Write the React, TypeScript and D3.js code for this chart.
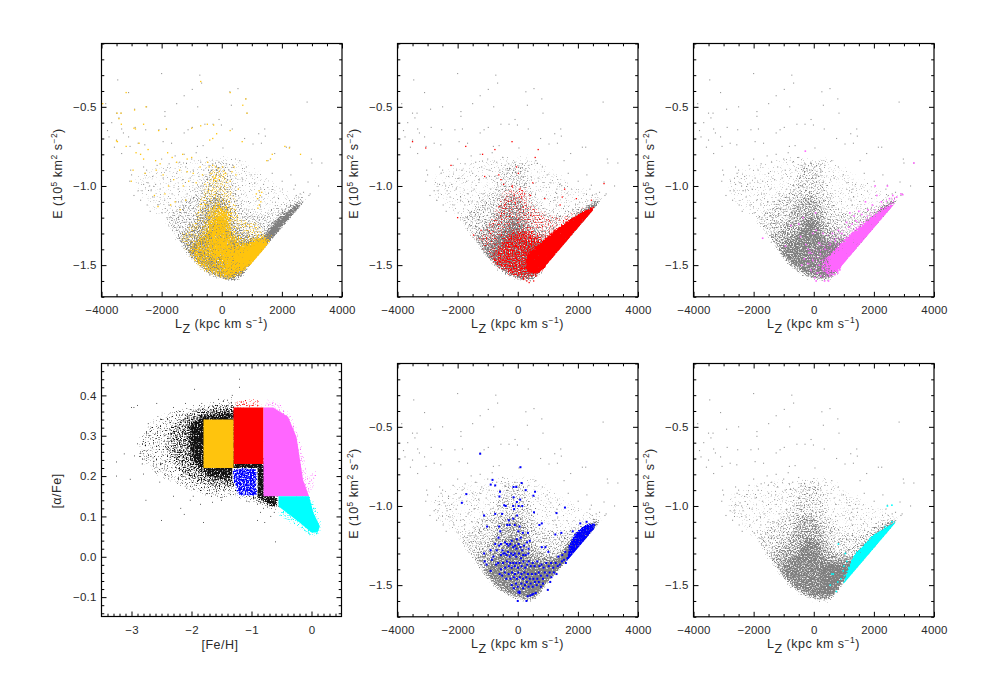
import * as d3 from "d3";
import { useEffect, useRef } from "react";

type Pt = [number, number];
type Layer = [Pt[], number];

const lzTicks = [-4000, -2000, 0, 2000, 4000];
const lzMinor = [-3500, -3000, -2500, -1500, -1000, -500, 500, 1000, 1500, 2500, 3000, 3500];
const energyTicks = [-1.5, -1.0, -0.5];
const energyMinor = [-1.7, -1.6, -1.4, -1.3, -1.2, -1.1, -0.9, -0.8, -0.7, -0.6, -0.4, -0.3, -0.2, -0.1];
const fehTicks = [-3, -2, -1, 0];
const fehMinor = [-3.4, -3.3, -3.2, -3.1, -2.9, -2.8, -2.7, -2.6, -2.5, -2.4, -2.3, -2.2, -2.1, -1.9, -1.8, -1.7, -1.6, -1.5, -1.4, -1.3, -1.2, -1.1, -0.9, -0.8, -0.7, -0.6, -0.5, -0.4, -0.3, -0.2, -0.1, 0.1, 0.2, 0.3, 0.4];
const alphaTicks = [-0.1, 0, 0.1, 0.2, 0.3, 0.4];
const alphaMinor = [-0.14, -0.12, -0.08, -0.06, -0.04, -0.02, 0.02, 0.04, 0.06, 0.08, 0.12, 0.14, 0.16, 0.18, 0.22, 0.24, 0.26, 0.28, 0.32, 0.34, 0.36, 0.38, 0.42, 0.44, 0.46];

// sharp lower right edge of the E-Lz cloud
const cloudEdge: Pt[] = [[-4000, -0.1], [4000, -0.1], [4000, -0.82], [950, -1.5], [800, -1.56], [550, -1.615], [100, -1.615], [-4000, -1.615]];

// crowded areas are drawn as density outlines, [outline, density]
const grayHalo: Pt[] = [[-3000, -0.95], [-2400, -0.88], [-1500, -0.83], [-500, -0.8], [500, -0.8], [1300, -0.9], [2000, -0.98], [2600, -1.03], [2900, -1.05], [2840, -1.09], [950, -1.5], [550, -1.61], [100, -1.61], [-400, -1.575], [-800, -1.52], [-1550, -1.34], [-2000, -1.22], [-2750, -1.1]];
const graySpread: Pt[] = [[-1900, -1.22], [-1300, -1.1], [-800, -1.02], [-400, -0.86], [200, -0.86], [500, -1.05], [800, -1.15], [1400, -1.18], [2000, -1.13], [2800, -1.07], [2840, -1.09], [950, -1.5], [800, -1.56], [550, -1.61], [100, -1.61], [-400, -1.575], [-800, -1.52], [-1200, -1.43], [-1550, -1.34]];
const grayCloud: Pt[] = [[-1500, -1.32], [-1100, -1.27], [-800, -1.2], [-500, -1.08], [-100, -1.05], [250, -1.12], [450, -1.25], [800, -1.3], [1300, -1.33], [1800, -1.25], [2500, -1.12], [2800, -1.08], [2840, -1.09], [950, -1.5], [800, -1.56], [550, -1.6], [100, -1.6], [-400, -1.565], [-800, -1.5], [-1200, -1.42]];
const grayCore: Pt[] = [[-1150, -1.42], [-850, -1.34], [-500, -1.3], [-250, -1.2], [100, -1.22], [300, -1.33], [700, -1.38], [1100, -1.4], [1500, -1.33], [1900, -1.25], [2400, -1.14], [2700, -1.09], [2700, -1.12], [950, -1.5], [700, -1.55], [300, -1.58], [-200, -1.56], [-700, -1.5]];
const grayBowl: Pt[] = [[300, -1.38], [1300, -1.33], [1500, -1.35], [950, -1.5], [700, -1.56], [300, -1.58]];
const grayArm: Pt[] = [[2650, -1.1], [2100, -1.18], [1700, -1.25], [1400, -1.33], [1200, -1.41], [950, -1.5], [2800, -1.09]];

const haloStars: Pt[] = [
  [-2000, -0.29], [-730, -0.3], [-3460, -0.33], [-670, -0.35], [-3100, -0.41], [-980, -0.39], [-1250, -0.43], [540, -0.385], [270, -0.405], [800, -0.45], [-1500, -0.48], [-800, -0.5], [320, -0.49], [2840, -0.47], [-3860, -0.48], [-2900, -0.515], [-2500, -0.5], [-3500, -0.54], [-3350, -0.54], [840, -0.54], [-1890, -0.53], [-1890, -0.56], [-90, -0.58], [-3420, -0.57], [-3660, -0.6], [-980, -0.63], [-2880, -0.63], [-3800, -0.65], [-3330, -0.64], [-3270, -0.665], [-2530, -0.645], [-2090, -0.645], [-1840, -0.64], [-1250, -0.665], [-1120, -0.645], [-560, -0.61], [-290, -0.61], [-10, -0.615], [350, -0.64], [1430, -0.64], [1230, -0.67], [1450, -0.685], [-3100, -0.69], [-3500, -0.71], [-3750, -0.69], [-3570, -0.755], [-3050, -0.75], [-2780, -0.73], [-2560, -0.74], [-3330, -0.795], [-1950, -0.72], [-1670, -0.73], [-810, -0.75], [-620, -0.745], [40, -0.76], [760, -0.7], [1040, -0.735], [1320, -0.73], [2150, -0.755], [2260, -0.755], [1760, -0.795], [2980, -0.83], [3000, -0.855], [3330, -0.855], [3220, -1.0], [2870, -0.975], [2450, -0.995],
  [-3030, -0.9], [-3000, -0.93], [-3060, -0.97], [-2600, -0.88], [-2550, -0.92], [-2500, -0.9], [-2450, -0.98], [-2400, -1.0], [-2350, -1.03], [-2780, -1.03], [-2650, -1.03], [-2700, -1.09], [-2300, -0.94], [-2150, -0.87], [-2000, -0.83], [-1950, -0.95], [-1850, -0.9], [-1750, -0.86], [-1700, -0.97], [-1650, -1.05], [-1550, -0.81], [-1500, -0.92], [-1450, -1.02], [-1400, -0.85], [-1350, -1.1], [-1300, -0.96], [-1250, -0.8], [-1200, -0.88], [-1150, -1.05], [-1100, -1.14], [-1050, -0.95], [-1000, -0.83], [-950, -0.9], [-900, -1.02], [-850, -0.79], [-800, -1.09], [-760, -0.94], [-700, -0.85], [-660, -1.0], [-600, -0.9], [-560, -1.06], [-500, -0.82], [-470, -0.95], [-420, -0.87], [-400, -1.0], [-350, -0.9],
  [-2600, -0.99], [-2250, -1.07], [-2120, -1.12], [-2050, -1.02], [-1980, -1.17], [-1900, -1.09], [-1820, -1.2], [-1760, -1.12], [-1600, -1.17], [-1580, -1.25], [-1520, -1.1], [-1420, -1.19], [-1380, -1.26], [-1280, -1.15], [-1220, -1.23], [-1180, -1.09], [-1080, -1.23], [-2920, -1.06], [-2480, -1.12], [-2380, -1.16], [-2200, -0.99], [-1720, -1.2],
  [-300, -0.86], [-140, -0.9], [-100, -0.85], [30, -0.88], [160, -0.86], [240, -0.9], [370, -0.87], [600, -0.84], [680, -0.95], [820, -0.88], [980, -0.93], [1100, -0.98], [1240, -1.09], [1260, -1.04], [1280, -1.12], [1300, -1.02], [1330, -1.07], [1390, -0.99], [1540, -0.84], [1680, -0.92], [2010, -0.97], [2300, -0.93], [2400, -1.02], [2480, -1.06], [2610, -1.05], [2720, -1.04], [2900, -1.06], [2940, -1.05],
];

const yellowStars: Pt[] = [
  [-3960, -0.48], [-3480, -0.54], [-3350, -0.54], [-3180, -0.41], [-2900, -0.52], [-2520, -0.5], [-3420, -0.575], [-3340, -0.61], [-2920, -0.635], [-2870, -0.64], [-2600, -0.61], [-2100, -0.65], [-1840, -0.64], [-1000, -0.635], [-700, -0.62], [-480, -0.61], [-270, -0.615], [-170, -0.67], [-300, -0.7], [-400, -0.71], [-700, -0.34], [280, -0.41], [800, -0.45], [700, -0.49], [840, -0.54], [280, -0.65], [680, -0.72], [-3500, -0.715], [-3470, -0.72], [-3180, -0.75], [-2750, -0.73], [-2850, -0.79], [-2700, -0.8], [-2600, -0.83], [-2450, -0.77], [-2200, -0.84], [-2050, -0.86], [-1800, -0.79], [-1650, -0.82], [-1500, -0.85], [-1300, -0.8], [-1150, -0.83], [-1000, -0.82], [-1150, -0.91], [-3010, -0.97], [-2950, -0.9], [-2550, -0.92], [-2180, -0.9], [-1950, -0.93], [-1600, -0.96], [-1400, -0.9], [-1280, -1.0], [-1100, -0.97], [-950, -0.92], [-850, -0.98], [-720, -0.88], [-640, -0.93], [-560, -0.99], [-470, -0.85], [-420, -0.88], [-360, -0.92], [-300, -0.87], [-260, -0.95], [-210, -0.88], [-170, -0.97], [-120, -0.89], [-70, -0.94], [30, -0.88], [130, -0.92], [280, -0.97], [340, -0.91], [410, -0.88], [470, -0.93], [550, -1.02], [1500, -0.84], [1620, -0.83], [1680, -0.8], [2100, -0.75], [2250, -0.76], [2620, -0.8], [-2240, -1.06], [-2120, -1.13], [-1890, -1.05], [-1770, -1.0], [-1700, -1.12], [-1550, -1.1], [-1380, -1.15], [-1200, -1.09], [1150, -1.05], [1190, -1.08], [1240, -1.03], [1280, -1.06], [1300, -1.1], [1250, -1.12], [1330, -1.04], [1200, -1.14],
];
const yellowSpread: Pt[] = [[-1500, -1.33], [-1000, -1.2], [-700, -1.05], [-400, -0.88], [200, -0.88], [450, -1.05], [700, -1.2], [1200, -1.22], [1500, -1.28], [1800, -1.3], [1500, -1.42], [950, -1.5], [700, -1.57], [300, -1.61], [-300, -1.58], [-800, -1.52], [-1200, -1.43]];
const yellowCore: Pt[] = [[-1050, -1.42], [-820, -1.34], [-550, -1.28], [-420, -1.16], [-130, -1.1], [280, -1.16], [330, -1.28], [700, -1.36], [1100, -1.35], [1350, -1.33], [1620, -1.36], [1300, -1.47], [1000, -1.49], [600, -1.55], [130, -1.59], [-350, -1.56], [-820, -1.5]];
const yellowBowl: Pt[] = [[0, -1.4], [600, -1.38], [1300, -1.32], [1600, -1.36], [1000, -1.49], [600, -1.55], [100, -1.58]];
const yellowBlob: Pt[] = [[500, -1.45], [1000, -1.38], [1500, -1.34], [1550, -1.37], [1200, -1.47], [900, -1.5], [700, -1.53]];
const yellowColumn: Pt[] = [[-200, -1.2], [100, -1.15], [200, -1.3], [300, -1.45], [-400, -1.45], [-400, -1.3]];

const redStars: Pt[] = [
  [-3500, -0.72], [-3060, -0.76], [-2220, -0.87], [-1730, -0.75], [-1170, -0.8], [-760, -0.77], [-190, -0.72], [580, -0.82], [680, -0.77], [-1100, -0.94], [-630, -0.93], [-560, -0.96], [-470, -0.99], [-180, -1.0], [-120, -1.06], [-40, -0.88], [20, -0.92], [70, -1.02], [130, -1.07], [230, -1.05], [420, -1.06], [500, -0.98], [900, -1.08], [1560, -1.02], [1950, -1.08], [2870, -0.985], [1480, -1.07], [1410, -1.12], [2450, -1.09], [-2000, -1.2], [-1470, -1.31], [-1220, -1.28], [-900, -1.3], [-620, -1.13], [-560, -1.19], [-440, -1.12], [300, -1.6], [380, -1.61], [530, -1.6], [600, -1.57], [120, -1.57], [200, -1.59],
];
const redSpread: Pt[] = [[-1500, -1.33], [-900, -1.2], [-600, -1.05], [-200, -0.98], [300, -1.0], [600, -1.12], [1100, -1.18], [1700, -1.17], [2500, -1.1], [2650, -1.12], [950, -1.5], [700, -1.57], [300, -1.61], [-300, -1.58], [-800, -1.5]];
const redPatch: Pt[] = [[-900, -1.47], [-300, -1.3], [300, -1.28], [700, -1.32], [1100, -1.36], [950, -1.5], [700, -1.56], [300, -1.58], [-200, -1.56]];
const redWedge: Pt[] = [[2560, -1.12], [1850, -1.195], [1190, -1.28], [740, -1.36], [300, -1.43], [250, -1.53], [550, -1.56], [800, -1.54], [1000, -1.5], [2560, -1.15]];

const magentaStars: Pt[] = [
  [-280, -0.78], [3330, -0.855], [2040, -1.0], [2450, -1.0], [2630, -1.06], [2900, -1.05], [2960, -1.055], [2760, -1.07], [2520, -1.08], [2250, -1.1], [2100, -1.06], [1950, -1.12], [1720, -1.1], [1500, -1.16], [1340, -1.19], [1200, -1.17], [1090, -1.23], [60, -1.17], [-1700, -1.33], [-940, -1.38], [-760, -1.25], [-500, -1.24], [-440, -1.32], [-350, -1.2], [-260, -1.37], [-120, -1.42], [-30, -1.3], [80, -1.28], [170, -1.36], [220, -1.43], [310, -1.3], [380, -1.4], [-400, -1.5], [-310, -1.46], [-200, -1.49], [-100, -1.53], [-30, -1.47], [30, -1.58], [80, -1.6], [120, -1.55], [180, -1.5], [230, -1.57], [290, -1.52], [360, -1.6], [410, -1.54], [490, -1.6], [540, -1.57], [620, -1.56], [700, -1.56], [800, -1.55], [870, -1.53], [-180, -1.4], [550, -1.37], [620, -1.3], [710, -1.35], [820, -1.28], [930, -1.3], [1040, -1.34], [1160, -1.26], [1280, -1.24], [1400, -1.22], [1600, -1.18], [1800, -1.15],
];
const magentaSpread: Pt[] = [[-300, -1.42], [0, -1.38], [400, -1.3], [900, -1.27], [1500, -1.2], [2300, -1.08], [2850, -1.05], [2800, -1.09], [950, -1.5], [700, -1.57], [300, -1.6], [-200, -1.54]];
const magentaPatch: Pt[] = [[250, -1.47], [600, -1.42], [800, -1.45], [750, -1.55], [500, -1.57], [250, -1.53]];
const magentaWedge: Pt[] = [[2760, -1.1], [2300, -1.15], [1980, -1.19], [1320, -1.29], [900, -1.37], [500, -1.45], [620, -1.53], [850, -1.54], [950, -1.51], [2760, -1.11]];

const cyanStars: Pt[] = [
  [2450, -1.0], [2600, -0.995], [2380, -1.13], [2500, -1.13], [2600, -1.1], [2250, -1.16], [2040, -1.2], [1650, -1.3], [820, -1.24], [1050, -1.3], [1100, -1.35], [1000, -1.38], [980, -1.41], [600, -1.43], [550, -1.5], [650, -1.43], [900, -1.46], [750, -1.54], [800, -1.48], [1020, -1.44],
];
const cyanWedge: Pt[] = [[2760, -1.09], [2350, -1.14], [1980, -1.18], [1320, -1.31], [1120, -1.4], [960, -1.5], [1100, -1.5], [2790, -1.1]];

const blueStars: Pt[] = [
  [-1250, -0.67], [90, -0.755], [-840, -0.835], [-900, -0.865], [-750, -0.87], [-140, -0.88], [-50, -0.88], [130, -0.855], [-1710, -0.925], [-1860, -0.98], [-590, -0.91], [-610, -0.94], [-140, -0.945], [575, -0.91], [520, -0.935], [265, -0.9], [80, -0.96], [-30, -0.975], [-450, -0.995], [-400, -1.0], [-1120, -1.06], [-750, -1.05], [1570, -1.01], [1290, -1.045], [-150, -1.0], [30, -1.0], [150, -1.0], [540, -1.04], [-120, -1.02], [-20, -1.06], [-520, -1.05], [-300, -1.09], [-150, -1.08], [-100, -1.12], [-350, -1.12], [-270, -1.12], [-620, -1.13], [-580, -1.16], [-640, -1.2], [-560, -1.24], [-1020, -1.13], [60, -1.13], [20, -1.16], [100, -1.2], [-30, -1.21], [170, -1.17], [340, -1.17], [800, -1.11], [720, -1.12], [1250, -1.18], [1450, -1.17], [1830, -1.16], [2080, -1.11], [2290, -1.1],
  [-750, -1.24], [-700, -1.28], [-620, -1.25], [-510, -1.28], [-420, -1.23], [-360, -1.24], [-310, -1.25], [-250, -1.24], [-200, -1.22], [-150, -1.26], [-90, -1.25], [-40, -1.27], [30, -1.24], [90, -1.26], [150, -1.28], [210, -1.25], [310, -1.23], [360, -1.27], [400, -1.22], [-900, -1.28], [-810, -1.32], [-1120, -1.3], [-1100, -1.35], [-860, -1.34], [-560, -1.31], [-480, -1.3], [-430, -1.3], [-370, -1.31], [-320, -1.29], [-270, -1.32], [-220, -1.3], [-150, -1.31], [-100, -1.3], [-50, -1.32], [40, -1.3], [110, -1.33], [180, -1.31], [260, -1.31], [350, -1.3], [800, -1.26], [920, -1.26], [1020, -1.29],
  [-1040, -1.37], [-720, -1.37], [-650, -1.36], [-560, -1.4], [-490, -1.36], [-420, -1.39], [-360, -1.35], [-300, -1.38], [-250, -1.36], [-200, -1.39], [-150, -1.36], [-100, -1.38], [-50, -1.36], [10, -1.39], [60, -1.36], [130, -1.38], [190, -1.35], [250, -1.39], [310, -1.37], [370, -1.35], [430, -1.38], [500, -1.36], [560, -1.38], [650, -1.35], [720, -1.38], [790, -1.37], [860, -1.39], [950, -1.36], [1030, -1.38], [1110, -1.36], [1180, -1.39], [1260, -1.36], [1330, -1.38], [1400, -1.37], [1470, -1.35], [1540, -1.34], [1600, -1.36], [1350, -1.32], [1480, -1.31], [1580, -1.29], [1650, -1.33], [1700, -1.31],
  [-900, -1.41], [-600, -1.43], [-520, -1.44], [-430, -1.42], [-380, -1.46], [-300, -1.43], [-240, -1.46], [-190, -1.42], [-130, -1.45], [-90, -1.43], [-30, -1.46], [20, -1.42], [70, -1.45], [120, -1.43], [170, -1.46], [220, -1.42], [280, -1.45], [340, -1.43], [400, -1.46], [470, -1.43], [520, -1.46], [590, -1.43], [650, -1.46], [700, -1.42], [770, -1.44], [840, -1.46], [900, -1.42], [980, -1.44], [1060, -1.42], [1120, -1.45], [1200, -1.42], [1290, -1.43], [-200, -1.5], [-130, -1.52], [-60, -1.49], [0, -1.51], [60, -1.54], [120, -1.49], [180, -1.52], [240, -1.5], [300, -1.48], [360, -1.51], [430, -1.49], [500, -1.51], [570, -1.48], [630, -1.5], [700, -1.48], [770, -1.51], [840, -1.49], [1000, -1.53], [1080, -1.48], [0, -1.6], [20, -1.545], [60, -1.55], [290, -1.6], [330, -1.57], [420, -1.565], [480, -1.56], [520, -1.555], [600, -1.55],
];
const blueArm: Pt[] = [[2580, -1.1], [2200, -1.12], [1900, -1.17], [1700, -1.24], [1600, -1.36], [1720, -1.36], [2100, -1.26], [2560, -1.15]];

// abundance plane
const blackStars: Pt[] = [
  [-3.25, 0.235], [-3.25, 0.2], [-3.12, 0.255], [-3.02, 0.192], [-3, 0.37], [-2.96, 0.37], [-2.9, 0.375], [-2.9, 0.28], [-2.95, 0.25], [-2.85, 0.26], [-2.82, 0.23], [-2.8, 0.205], [-2.76, 0.14], [-2.7, 0.3], [-2.72, 0.33], [-2.65, 0.27], [-2.64, 0.245], [-2.6, 0.21], [-2.58, 0.38], [-2.55, 0.32], [-2.53, 0.185], [-2.5, 0.23], [-2.5, 0.09], [-2.45, 0.3], [-2.42, 0.27], [-2.4, 0.34], [-2.38, 0.2], [-2.35, 0.25], [-2.3, 0.37], [-2.3, 0.15], [-2.28, 0.29], [-2.25, 0.22], [-2.22, 0.32], [-2.2, 0.36], [-2.18, 0.12], [-2.15, 0.2], [-2.12, 0.105], [-2.1, 0.38], [-2.08, 0.17], [-2.02, 0.14], [-1.97, 0.15], [-1.95, 0.415], [-1.85, 0.13], [-1.83, 0.38], [-1.8, 0.085], [-1.65, 0.135], [-1.55, 0.39], [-1.5, 0.14], [-1.32, 0.4], [-1.2, 0.44], [-1.2, 0.42], [-0.9, 0.13], [-0.9, 0.09], [-0.85, 0.11], [-0.8, 0.12], [-0.78, 0.085], [-0.68, 0.1], [-0.62, 0.11], [-0.6, 0.037],
];
const blackHalo: Pt[] = [[-2.9, 0.3], [-2.6, 0.35], [-2.2, 0.37], [-1.8, 0.385], [-1.3, 0.4], [-0.8, 0.3], [-0.55, 0.16], [-0.55, 0.11], [-0.9, 0.125], [-1.3, 0.14], [-1.7, 0.14], [-2.2, 0.17], [-2.6, 0.2], [-2.9, 0.24]];
const blackMid: Pt[] = [[-2.4, 0.31], [-2.1, 0.35], [-1.8, 0.37], [-1.3, 0.375], [-0.8, 0.25], [-0.6, 0.15], [-0.6, 0.125], [-0.9, 0.14], [-1.3, 0.17], [-1.7, 0.175], [-2.1, 0.2], [-2.35, 0.25]];
const blackCore: Pt[] = [[-2.05, 0.32], [-1.85, 0.345], [-1.3, 0.36], [-1.3, 0.19], [-1.7, 0.2], [-2.0, 0.24]];
const blackStrip: Pt[] = [[-1.3, 0.235], [-0.8, 0.235], [-0.8, 0.15], [-0.55, 0.148], [-0.55, 0.125], [-0.72, 0.13], [-0.9, 0.155], [-0.9, 0.22], [-1.3, 0.22]];

const yellowBlock: Pt[] = [[-1.8, 0.34], [-1.3, 0.34], [-1.3, 0.22], [-1.8, 0.22]];
const redBlock: Pt[] = [[-1.3, 0.37], [-0.8, 0.37], [-0.8, 0.23], [-1.3, 0.23]];
const redFringe: Pt[] = [[-1.3, 0.39], [-0.85, 0.395], [-0.8, 0.37], [-1.3, 0.36]];
const blueBlock: Pt[] = [[-1.32, 0.22], [-0.9, 0.22], [-0.9, 0.15], [-1.22, 0.15], [-1.32, 0.19]];
const magentaBlock: Pt[] = [[-0.8, 0.37], [-0.64, 0.37], [-0.39, 0.347], [-0.25, 0.297], [-0.14, 0.19], [-0.04, 0.15], [-0.8, 0.15]];
const magentaFringe: Pt[] = [[-0.8, 0.395], [-0.55, 0.39], [-0.32, 0.35], [-0.18, 0.3], [-0.05, 0.2], [0.1, 0.23], [0.08, 0.165], [-0.04, 0.15], [-0.8, 0.3]];
const cyanBlock: Pt[] = [[-0.55, 0.15], [-0.04, 0.15], [0.03, 0.11], [0.14, 0.075], [0.1, 0.06], [0, 0.06], [-0.2, 0.085], [-0.55, 0.125]];
const cyanFringe: Pt[] = [[-0.55, 0.15], [-0.02, 0.155], [0.08, 0.125], [0.18, 0.085], [0.15, 0.05], [0, 0.045], [-0.25, 0.07], [-0.55, 0.1]];

const PT_GRAY = "#7d7d7d";
const YELLOW = "#ffc40d";
const RED = "#ff0000";
const MAGENTA = "#ff66ff";
const CYAN = "#00ffff";
const BLUE = "#0000ff";
const INK = "#2a2a2a";

type Sel = d3.Selection<SVGGElement, unknown, null, undefined>;
type Scale = d3.ScaleLinear<number, number>;

let grainCount = 0;

// turns density outlines into a fine grain, this is only a texture and carries no star positions
function grain(g: Sel, defs: Sel, x: Scale, y: Scale, color: string, layers: Layer[], blur: number, seed: number, clip?: string) {
  const id = `grain${grainCount++}`;
  const f = defs.append("filter").attr("id", id).attr("filterUnits", "userSpaceOnUse").attr("x", 0).attr("y", 0).attr("width", 1000).attr("height", 700).attr("color-interpolation-filters", "sRGB");
  f.append("feGaussianBlur").attr("in", "SourceAlpha").attr("stdDeviation", blur).attr("result", "density");
  f.append("feTurbulence").attr("type", "fractalNoise").attr("baseFrequency", 0.73).attr("numOctaves", 2).attr("seed", seed).attr("result", "noise");
  f.append("feColorMatrix").attr("in", "noise").attr("type", "matrix").attr("values", "0 0 0 0 0 0 0 0 0 0 0 0 0 0 0 1 0 0 0 0").attr("result", "n");
  f.append("feComposite").attr("in", "density").attr("in2", "n").attr("operator", "arithmetic").attr("k1", 0).attr("k2", 4).attr("k3", 4).attr("k4", -4).attr("result", "mask");
  f.append("feFlood").attr("flood-color", color).attr("result", "ink");
  f.append("feComposite").attr("in", "ink").attr("in2", "mask").attr("operator", "in");

  const line = d3.line<Pt>().x((d) => x(d[0])).y((d) => y(d[1])).curve(d3.curveLinearClosed);
  const holder = g.append("g");
  if (clip) holder.attr("clip-path", `url(#${clip})`);
  const layer = holder.append("g").attr("filter", `url(#${id})`);
  layers.forEach(([outline, density]) => {
    layer.append("path").attr("d", line(outline)).attr("fill", "#000").attr("fill-opacity", density);
  });
}

function drawAxes(g: Sel, x: Scale, y: Scale, xMajor: number[], xMinor: number[], yMajor: number[], yMinor: number[], major: number, minor: number) {
  const [x0, x1] = x.range();
  const [y0, y1] = y.range();
  const style = (a: Sel) => {
    a.select(".domain").remove();
    a.selectAll("line").attr("stroke", "#000").attr("stroke-width", 1);
    a.selectAll("text").attr("font-family", "Liberation Sans").attr("font-size", 11.5).attr("fill", INK).attr("letter-spacing", 0.2);
  };
  const none = () => "";
  g.append("g").attr("transform", `translate(0,${y0})`).call(d3.axisBottom(x).tickValues(xMajor).tickSize(-major).tickPadding(9).tickFormat(d3.format("d") as never)).call(style);
  g.append("g").attr("transform", `translate(0,${y0})`).call(d3.axisBottom(x).tickValues(xMinor).tickSize(-minor).tickFormat(none)).call(style);
  g.append("g").attr("transform", `translate(0,${y1})`).call(d3.axisTop(x).tickValues(xMajor).tickSize(-major).tickFormat(none)).call(style);
  g.append("g").attr("transform", `translate(0,${y1})`).call(d3.axisTop(x).tickValues(xMinor).tickSize(-minor).tickFormat(none)).call(style);
  g.append("g").attr("transform", `translate(${x0},0)`).call(d3.axisLeft(y).tickValues(yMajor).tickSize(-major).tickPadding(5).tickFormat(d3.format(".1f") as never)).call(style);
  g.append("g").attr("transform", `translate(${x0},0)`).call(d3.axisLeft(y).tickValues(yMinor).tickSize(-minor).tickFormat(none)).call(style);
  g.append("g").attr("transform", `translate(${x1},0)`).call(d3.axisRight(y).tickValues(yMajor).tickSize(-major).tickFormat(none)).call(style);
  g.append("g").attr("transform", `translate(${x1},0)`).call(d3.axisRight(y).tickValues(yMinor).tickSize(-minor).tickFormat(none)).call(style);
  g.append("rect").attr("x", x0).attr("y", y1).attr("width", x1 - x0).attr("height", y0 - y1).attr("fill", "none").attr("stroke", "#000").attr("stroke-width", 1.2);
}

function areaOf(g: Sel, x: Scale, y: Scale, outline: Pt[], fill: string) {
  const line = d3.line<Pt>().x((d) => x(d[0])).y((d) => y(d[1])).curve(d3.curveLinearClosed);
  g.append("path").attr("d", line(outline)).attr("fill", fill);
}

function starsOf(g: Sel, x: Scale, y: Scale, stars: Pt[], fill: string, size: number, opacity = 1) {
  g.append("g").selectAll("rect").data(stars).join("rect")
    .attr("x", (d) => x(d[0]) - size / 2)
    .attr("y", (d) => y(d[1]) - size / 2)
    .attr("width", size).attr("height", size)
    .attr("fill", fill).attr("fill-opacity", opacity);
}

function lzLabel(g: Sel, cx: number, baseline: number) {
  const t = g.append("text").attr("x", cx).attr("y", baseline).attr("text-anchor", "middle").attr("font-family", "Liberation Sans").attr("font-size", 12.5).attr("fill", INK).attr("letter-spacing", 0.5);
  t.append("tspan").text("L");
  t.append("tspan").attr("dy", 5).text("Z");
  t.append("tspan").attr("dy", -5).text(" (kpc  km  s");
  t.append("tspan").attr("dy", -4.5).attr("font-size", 8.5).text("−1");
  t.append("tspan").attr("dy", 4.5).text(")");
}

function energyLabel(g: Sel, baselineX: number, cy: number) {
  const t = g.append("text").attr("transform", `translate(${baselineX},${cy}) rotate(-90)`).attr("text-anchor", "middle").attr("font-family", "Liberation Sans").attr("font-size", 12.5).attr("fill", INK).attr("letter-spacing", 0.5);
  t.append("tspan").text("E  (10");
  t.append("tspan").attr("dy", -4.5).attr("font-size", 8.5).text("5");
  t.append("tspan").attr("dy", 4.5).text(" km");
  t.append("tspan").attr("dy", -4.5).attr("font-size", 8.5).text("2");
  t.append("tspan").attr("dy", 4.5).text(" s");
  t.append("tspan").attr("dy", -4.5).attr("font-size", 8.5).text("−2");
  t.append("tspan").attr("dy", 4.5).text(")");
}

function energyPanel(svg: Sel, defs: Sel, name: string, left: number, top: number, paint: (g: Sel, x: Scale, y: Scale, clip: string) => void) {
  const x = d3.scaleLinear().domain([-4000, 4000]).range([left, left + 240.5]);
  const y = d3.scaleLinear().domain([-1.7, -0.1]).range([top + 253.3, top]);
  const clip = `edge-${name}`;
  const outline = d3.line<Pt>().x((d) => x(d[0])).y((d) => y(d[1])).curve(d3.curveLinearClosed);
  defs.append("clipPath").attr("id", clip).append("path").attr("d", outline(cloudEdge));
  const g = svg.append("g");
  grain(g, defs, x, y, "#808080", [[grayHalo, 0.38], [graySpread, 0.19], [grayCloud, 0.24], [grayCore, 0.37], [grayBowl, 0.4], [grayArm, 1]], 2.5, 7, clip);
  starsOf(g, x, y, haloStars, PT_GRAY, 1.1, 0.8);
  paint(g, x, y, clip);
  drawAxes(g, x, y, lzTicks, lzMinor, energyTicks, energyMinor, 5, 2.8);
  lzLabel(g, left + 120, top + 284);
  energyLabel(g, left - 40, top + 130);
}

export default function App() {
  const ref = useRef<SVGSVGElement | null>(null);

  useEffect(() => {
    if (!ref.current) return;
    const root = d3.select(ref.current);
    root.selectAll("*").remove();
    grainCount = 0;
    const defs = root.append("defs") as unknown as Sel;
    const svg = root.append("g") as unknown as Sel;

    energyPanel(svg, defs, "yellow", 101.5, 43.5, (g, x, y, clip) => {
      grain(g, defs, x, y, YELLOW, [[yellowSpread, 0.48], [yellowCore, 0.35], [yellowBowl, 0.45], [yellowBlob, 1], [yellowColumn, 0.41]], 2.5, 11, clip);
      starsOf(g, x, y, yellowStars, YELLOW, 1.3);
    });
    energyPanel(svg, defs, "red", 397.5, 43.5, (g, x, y, clip) => {
      grain(g, defs, x, y, RED, [[redSpread, 0.45], [redPatch, 0.36]], 2.5, 23, clip);
      grain(g, defs, x, y, RED, [[redWedge, 1]], 1.5, 29, clip);
      starsOf(g, x, y, redStars, RED, 1.3);
    });
    energyPanel(svg, defs, "magenta", 693.5, 43.5, (g, x, y, clip) => {
      grain(g, defs, x, y, MAGENTA, [[magentaSpread, 0.42], [magentaPatch, 0.45], [magentaWedge, 1]], 1.5, 31, clip);
      starsOf(g, x, y, magentaStars, MAGENTA, 1.6);
    });
    energyPanel(svg, defs, "blue", 397.5, 363.5, (g, x, y, clip) => {
      grain(g, defs, x, y, BLUE, [[blueArm, 0.85]], 1, 37, clip);
      starsOf(g, x, y, blueStars, BLUE, 2);
    });
    energyPanel(svg, defs, "cyan", 693.5, 363.5, (g, x, y, clip) => {
      grain(g, defs, x, y, CYAN, [[cyanWedge, 1]], 1, 61, clip);
      starsOf(g, x, y, cyanStars, CYAN, 1.6);
    });

    const x = d3.scaleLinear().domain([-3.5, 0.5]).range([101.5, 341.5]);
    const y = d3.scaleLinear().domain([-0.148, 0.479]).range([616.5, 363.5]);
    const g = svg.append("g");
    grain(g, defs, x, y, "#111", [[blackHalo, 0.43], [blackMid, 0.26], [blackCore, 0.57], [blackStrip, 0.8]], 2.5, 41);
    starsOf(g, x, y, blackStars, "#222", 1, 0.75);
    grain(g, defs, x, y, RED, [[redFringe, 0.46]], 1.5, 43);
    grain(g, defs, x, y, MAGENTA, [[magentaFringe, 0.46]], 1.5, 47);
    grain(g, defs, x, y, CYAN, [[cyanFringe, 0.5]], 1.5, 53);
    areaOf(g, x, y, redBlock, RED);
    areaOf(g, x, y, blueBlock, "#fff");
    grain(g, defs, x, y, BLUE, [[blueBlock, 0.72]], 1.2, 59);
    areaOf(g, x, y, yellowBlock, YELLOW);
    areaOf(g, x, y, magentaBlock, MAGENTA);
    areaOf(g, x, y, cyanBlock, CYAN);
    drawAxes(g, x, y, fehTicks, fehMinor, alphaTicks, alphaMinor, 5, 2.8);

    g.append("text").attr("x", 220).attr("y", 649).attr("text-anchor", "middle").attr("font-family", "Liberation Sans").attr("font-size", 12.5).attr("fill", INK).attr("letter-spacing", 0.5).text("[Fe/H]");
    g.append("text").attr("transform", "translate(61,491) rotate(-90)").attr("text-anchor", "middle").attr("font-family", "Liberation Sans").attr("font-size", 12.5).attr("fill", INK).attr("letter-spacing", 0.5).text("[α/Fe]");
  }, []);

  return <svg ref={ref} width={1000} height={700} style={{ position: "absolute", left: 0, top: 0, background: "#fff" }} />;
}
